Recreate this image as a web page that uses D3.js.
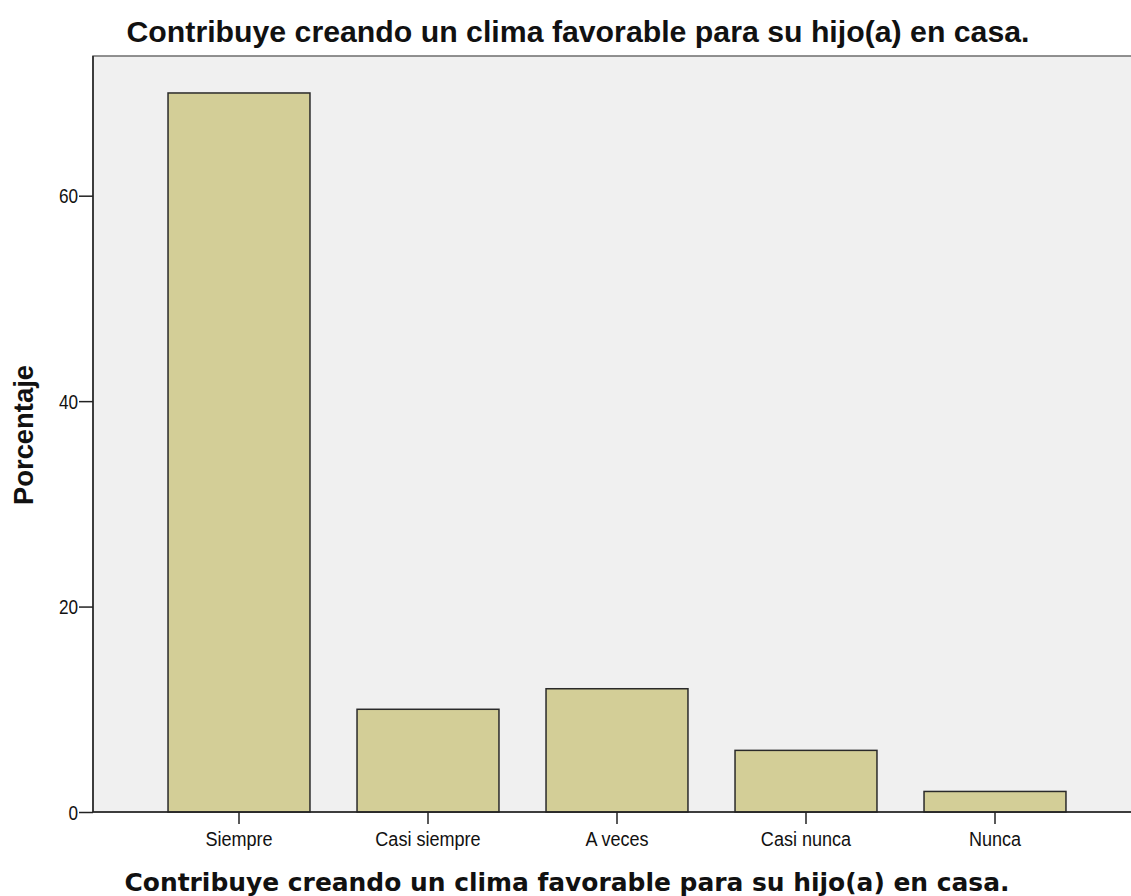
<!DOCTYPE html>
<html><head><meta charset="utf-8">
<script src="https://cdn.jsdelivr.net/npm/d3@7"></script>
<style>body{margin:0;background:#fff}svg{display:block}</style>
</head><body>
<script>
const categories = ["Siempre","Casi siempre","A veces","Casi nunca","Nunca"];
const values = [70, 10, 12, 6, 2];
const yTicks = [0, 20, 40, 60];
const titleText = "Contribuye creando un clima favorable para su hijo(a) en casa.";
const xTitle = "Contribuye creando un clima favorable para su hijo(a) en casa.";
const yTitle = "Porcentaje";

const W = 1131, H = 896;
const plot = {left: 93, top: 56, right: 1141, bottom: 812};
const svg = d3.select("body").append("svg").attr("width", W).attr("height", H);

svg.append("rect").attr("x", plot.left).attr("y", plot.top)
  .attr("width", plot.right - plot.left).attr("height", plot.bottom - plot.top)
  .attr("fill", "#f0f0f0").attr("stroke", "#6e6e6e").attr("stroke-width", 1.5);

const x = d3.scaleBand().domain(categories).range([144.5, 1089.5]).paddingInner(0.249).paddingOuter(0.1245);
const y = d3.scaleLinear().domain([0, 73.6]).range([plot.bottom, plot.top]);

svg.selectAll("rect.bar").data(categories).join("rect").attr("class","bar")
  .attr("x", d => x(d)).attr("width", x.bandwidth())
  .attr("y", (d,i) => y(values[i])).attr("height", (d,i) => y(0) - y(values[i]))
  .attr("fill", "#d3ce97").attr("stroke", "#2a2a2a").attr("stroke-width", 1.5);

const font = "Arial, 'Liberation Sans', sans-serif";

const yAxis = svg.append("g").attr("transform", `translate(${plot.left},0)`)
  .call(d3.axisLeft(y).tickValues(yTicks).tickSize(14).tickPadding(2).tickFormat(d3.format("d")));
yAxis.select(".domain").attr("stroke", "#222").attr("stroke-width", 1.5).attr("d", `M0,${plot.top}V${plot.bottom}`);
yAxis.selectAll(".tick line").attr("stroke", "#222").attr("stroke-width", 1.5);
yAxis.selectAll(".tick text").attr("font-family", font).attr("font-size", 20).attr("fill", "#111")
  .attr("x", -15).attr("dy", "0.36em")
  .attr("transform", "translate(-15,0) scale(0.86,1) translate(15,0)");

const xAxis = svg.append("g").attr("transform", `translate(0,${plot.bottom})`)
  .call(d3.axisBottom(x).tickSize(12).tickPadding(6));
xAxis.select(".domain").attr("stroke", "#222").attr("stroke-width", 1.5).attr("d", `M${plot.left},0H${plot.right}`);
xAxis.selectAll(".tick line").attr("stroke", "#222").attr("stroke-width", 1.5);
xAxis.selectAll(".tick text").attr("font-family", font).attr("font-size", 21).attr("fill", "#111")
  .attr("y", 34).attr("dy", "0").attr("transform", "scale(0.86,1)");

svg.append("text").attr("x", 578).attr("y", 42).attr("text-anchor", "middle")
  .attr("font-family", font).attr("font-weight", "bold").attr("font-size", 29)
  .attr("textLength", 903).attr("lengthAdjust", "spacingAndGlyphs")
  .attr("fill", "#111").text(titleText);

svg.append("text").attr("x", 567).attr("y", 891).attr("text-anchor", "middle")
  .attr("font-family", "'DejaVu Sans Condensed', 'DejaVu Sans', sans-serif").attr("font-weight", "bold").attr("font-size", 25)
  .attr("textLength", 885).attr("lengthAdjust", "spacingAndGlyphs")
  .attr("fill", "#111").text(xTitle);

svg.append("text").attr("transform", "translate(33,435) rotate(-90)").attr("text-anchor", "middle")
  .attr("font-family", font).attr("font-weight", "bold").attr("font-size", 27)
  .attr("textLength", 140).attr("lengthAdjust", "spacingAndGlyphs")
  .attr("fill", "#111").text(yTitle);
</script>
</body></html>
